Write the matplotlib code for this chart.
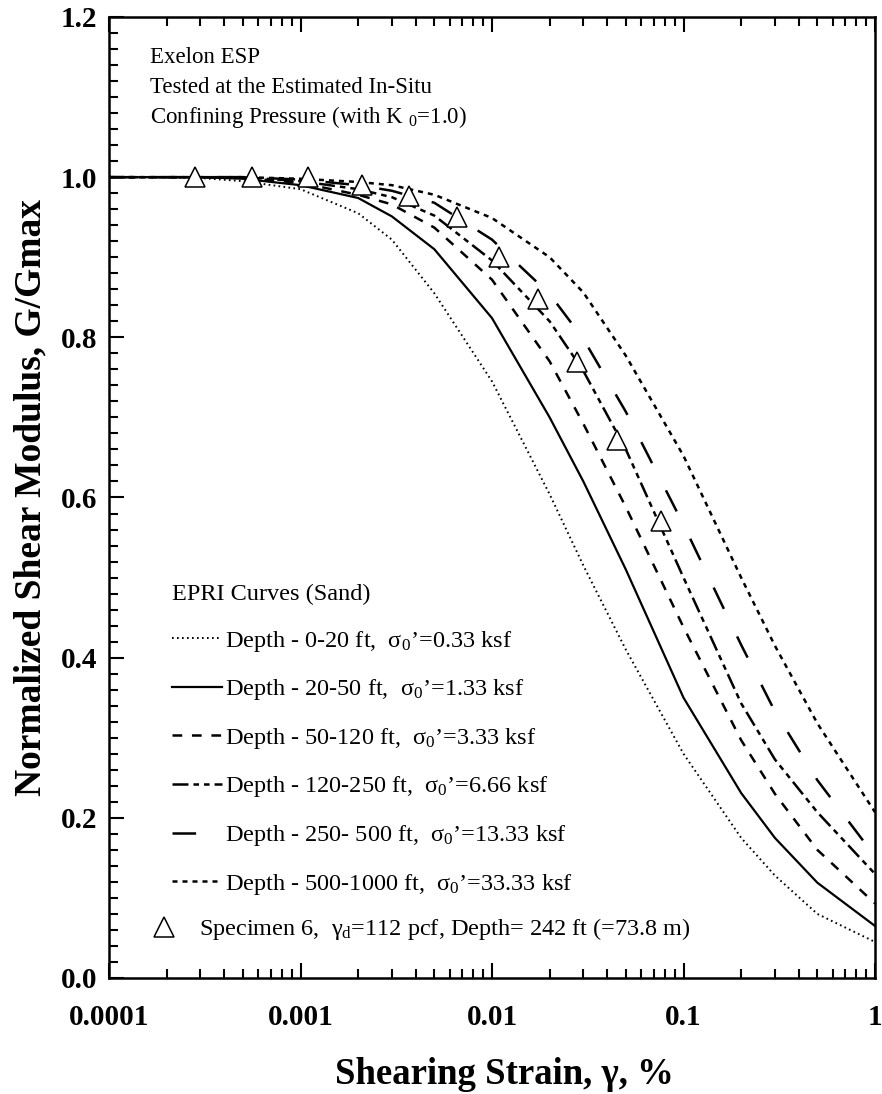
import numpy as np
import matplotlib
matplotlib.use('Agg')
import matplotlib.pyplot as plt
from matplotlib.ticker import LogLocator, MultipleLocator, NullFormatter, FormatStrFormatter

plt.rcParams['font.family'] = ['Liberation Serif', 'DejaVu Serif']
plt.rcParams['mathtext.fontset'] = 'custom'
plt.rcParams['mathtext.rm'] = 'Liberation Serif'
plt.rcParams['mathtext.it'] = 'Liberation Serif:italic'
plt.rcParams['mathtext.bf'] = 'Liberation Serif:bold'
plt.rcParams['lines.scale_dashes'] = False

# EPRI sand curves, shearing strain in %
strain = [1e-4, 2e-4, 3e-4, 5e-4, 1e-3, 2e-3, 3e-3, 5e-3, 1e-2, 2e-2, 3e-2, 5e-2,
          0.1, 0.2, 0.3, 0.5, 1.0]
g_0_20 = [1.0, 1.0, 0.999, 0.995, 0.985, 0.955, 0.922, 0.855, 0.745, 0.604, 0.515, 0.41,
          0.28, 0.175, 0.128, 0.08, 0.045]
g_20_50 = [1.0, 1.0, 1.0, 0.998, 0.99, 0.974, 0.951, 0.91, 0.824, 0.70, 0.62, 0.51,
           0.35, 0.231, 0.175, 0.119, 0.065]
g_50_120 = [1.0, 1.0, 1.0, 0.999, 0.993, 0.978, 0.966, 0.937, 0.872, 0.77, 0.692, 0.588,
            0.438, 0.297, 0.23, 0.16, 0.093]
g_120_250 = [1.0, 1.0, 1.0, 1.0, 0.995, 0.985, 0.975, 0.952, 0.896, 0.82, 0.758, 0.66,
             0.50, 0.343, 0.273, 0.207, 0.13]
g_250_500 = [1.0, 1.0, 1.0, 1.0, 0.997, 0.99, 0.983, 0.968, 0.922, 0.854, 0.798, 0.707,
             0.566, 0.416, 0.333, 0.247, 0.152]
g_500_1000 = [1.0, 1.0, 1.0, 1.0, 0.998, 0.994, 0.99, 0.978, 0.949, 0.90, 0.856, 0.777,
              0.652, 0.50, 0.415, 0.318, 0.207]

curve_labels = [
    "Depth - 0-20 ft,  σ$_0$’=0.33 ksf",
    "Depth - 20-50 ft,  σ$_0$’=1.33 ksf",
    "Depth - 50-120 ft,  σ$_0$’=3.33 ksf",
    "Depth - 120-250 ft,  σ$_0$’=6.66 ksf",
    "Depth - 250- 500 ft,  σ$_0$’=13.33 ksf",
    "Depth - 500-1000 ft,  σ$_0$’=33.33 ksf",
]

# Specimen 6 test results
spec_strain = [0.00028, 0.00056, 0.0011, 0.0021, 0.0037, 0.0066, 0.0109, 0.0174,
               0.0277, 0.0448, 0.0759]
spec_g = [1.0, 1.0, 1.0, 0.99, 0.977, 0.95, 0.90, 0.848, 0.769, 0.672, 0.571]
spec_label = "Specimen 6,  γ$_\\mathrm{d}$=112 pcf, Depth= 242 ft (=73.8 m)"

x_ticks = [1e-4, 1e-3, 1e-2, 1e-1, 1]
x_tick_labels = ['0.0001', '0.001', '0.01', '0.1', '1']

styles = [
    dict(ls=(0, (1.2, 2.4)), lw=1.4),
    dict(ls='-', lw=1.6),
    dict(ls=(0, (7, 7)), lw=1.8),
    dict(ls=(0, (11.5, 3.6, 4, 3.6, 4, 3.6)), lw=1.8),
    dict(ls=(0, (17, 22)), lw=1.8),
    dict(ls=(0, (3.6, 3.6)), lw=1.8),
]

fig = plt.figure(figsize=(8.82, 10.94), dpi=100)
ax = fig.add_axes([109 / 882, 1 - 978 / 1094, 766 / 882, 961 / 1094])

curves = [g_0_20, g_20_50, g_50_120, g_120_250, g_250_500, g_500_1000]
handles = []
for g, st, lab in zip(curves, styles, curve_labels):
    h, = ax.plot(strain, g, color='black', linestyle=st['ls'], linewidth=st['lw'], label=lab)
    handles.append(h)

tri, = ax.plot(spec_strain, spec_g, linestyle='none', marker='^', markersize=14,
               markerfacecolor='white', markeredgecolor='black', markeredgewidth=1.1,
               label=spec_label, zorder=5)

ax.set_xscale('log')
ax.set_xlim(1e-4, 1)
ax.set_ylim(0, 1.2)
ax.set_xticks(x_ticks)
ax.set_xticklabels(x_tick_labels)
ax.xaxis.set_minor_locator(LogLocator(base=10, subs=np.arange(2, 10)))
ax.xaxis.set_minor_formatter(NullFormatter())
ax.yaxis.set_major_locator(MultipleLocator(0.2))
ax.yaxis.set_minor_locator(MultipleLocator(0.02))
ax.yaxis.set_major_formatter(FormatStrFormatter('%.1f'))

ax.tick_params(which='both', direction='in', top=True, right=False, width=1.5)
ax.tick_params(which='major', length=11)
ax.tick_params(which='minor', length=6.5)
ax.tick_params(axis='x', which='major', pad=19, labelsize=21)
ax.tick_params(axis='y', which='major', pad=8.5, labelsize=21)
for lbl in ax.get_xticklabels() + ax.get_yticklabels():
    lbl.set_fontweight('bold')
for sp in ax.spines.values():
    sp.set_linewidth(1.8)

ax.set_xlabel('Shearing Strain, γ, %', fontsize=26.5, fontweight='bold')
ax.set_ylabel('Normalized Shear Modulus, G/Gmax', fontsize=27, fontweight='bold')
ax.xaxis.set_label_coords(0.516, -0.082)
ax.yaxis.set_label_coords(-0.079, 0.50)

# header text
ax.text(0.053, 0.952, 'Exelon ESP', transform=ax.transAxes, fontsize=16.5, va='baseline')
ax.text(0.053, 0.921, 'Tested at the Estimated In-Situ', transform=ax.transAxes,
        fontsize=16.5, va='baseline')
ax.text(0.053, 0.890, 'Confining Pressure (with K $_0$=1.0)', transform=ax.transAxes,
        fontsize=16.5, va='baseline')

leg1 = ax.legend(handles=handles, loc='upper left', bbox_to_anchor=(0.082, 0.410),
                 frameon=False, title='EPRI Curves (Sand)', alignment='left',
                 prop={'size': 17.5}, title_fontproperties={'size': 17.5},
                 handlelength=2.05, handletextpad=0.15, labelspacing=0.97,
                 borderpad=0, borderaxespad=0)
ax.add_artist(leg1)
ax.legend(handles=[tri], loc='upper left', bbox_to_anchor=(0.055, 0.064),
          frameon=False, prop={'size': 17.5}, numpoints=1, handlelength=1.1,
          handletextpad=0.85, borderpad=0, borderaxespad=0)

fig.savefig('out.png', dpi=100)
